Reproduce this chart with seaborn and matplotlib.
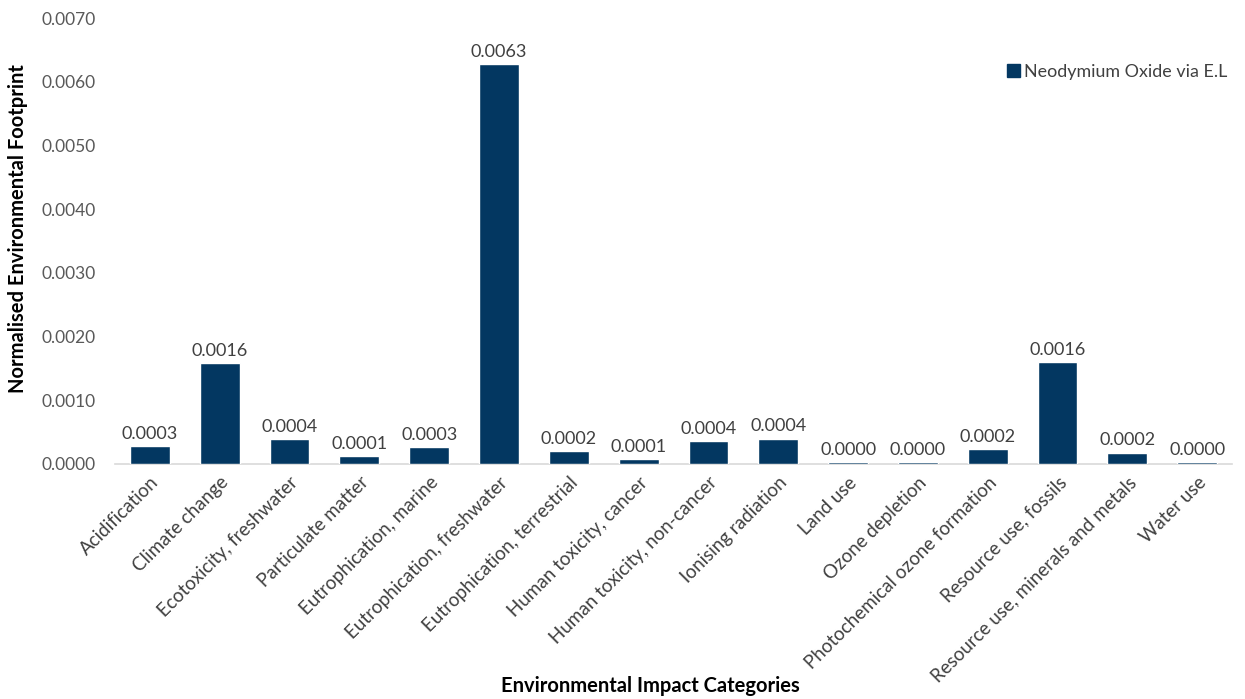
import matplotlib
matplotlib.use("Agg")
import matplotlib.pyplot as plt
from matplotlib.patches import Patch
import seaborn as sns
import pandas as pd

categories = [
    "Acidification", "Climate change", "Ecotoxicity, freshwater", "Particulate matter",
    "Eutrophication, marine", "Eutrophication, freshwater", "Eutrophication, terrestrial",
    "Human toxicity, cancer", "Human toxicity, non-cancer", "Ionising radiation",
    "Land use", "Ozone depletion", "Photochemical ozone formation",
    "Resource use, fossils", "Resource use, minerals and metals", "Water use",
]
values = [
    0.00028, 0.00158, 0.00039, 0.00012, 0.00026, 0.00628, 0.00020, 0.00008,
    0.00036, 0.00040, 0.00003, 0.00003, 0.00024, 0.00160, 0.00018, 0.00003,
]
series_name = "Neodymium Oxide via E.L"
yticks = [0.0, 0.001, 0.002, 0.003, 0.004, 0.005, 0.006, 0.007]

bar_color = "#033761"
text_color = "#404040"

sns.set_theme(style="white")
plt.rcParams["font.family"] = ["Lato", "DejaVu Sans"]

df = pd.DataFrame({"category": categories, "value": values})

fig = plt.figure(figsize=(12.45, 6.99), dpi=100)
ax = fig.add_axes([0.0924, 0.3362, 0.8972, 0.638])

sns.barplot(data=df, x="category", y="value", color=bar_color, width=0.57,
            saturation=1, ax=ax)

ax.set_ylim(0, 0.007)
ax.set_yticks(yticks)
ax.set_yticklabels([f"{t:.4f}" for t in yticks], fontsize=12.5, color="#595959")
ax.set_xlim(-0.5, len(categories) - 0.5)
ax.tick_params(axis="y", length=0, pad=14)
ax.tick_params(axis="x", length=0, pad=7)
plt.setp(ax.get_xticklabels(), rotation=45, ha="right", rotation_mode="anchor",
         fontsize=13.5, color=text_color)

for side in ["left", "right", "top"]:
    ax.spines[side].set_visible(False)
ax.spines["bottom"].set_color("#D9D9D9")
ax.spines["bottom"].set_linewidth(1.2)
ax.spines["bottom"].set_zorder(0.5)

ax.bar_label(ax.containers[0], labels=[f"{v:.4f}" for v in values],
             padding=3, fontsize=13, color=text_color)

ax.set_xlabel("Environmental Impact Categories", fontsize=14.5,
              fontweight="bold", color="black")
ax.set_ylabel("Normalised Environmental Footprint", fontsize=14.5,
              fontweight="bold", color="black")
ax.xaxis.set_label_coords(0.479, -0.475)
ax.yaxis.set_label_coords(-0.078, 0.527)

handle = Patch(facecolor=bar_color, edgecolor=bar_color)
fig.legend(handles=[handle], labels=[series_name], loc="center right",
           bbox_to_anchor=(0.999, 0.897), frameon=False, fontsize=12.9,
           handlelength=0.7, handleheight=0.7, handletextpad=0.25,
           labelcolor=text_color)

fig.savefig("out.png", dpi=100)
